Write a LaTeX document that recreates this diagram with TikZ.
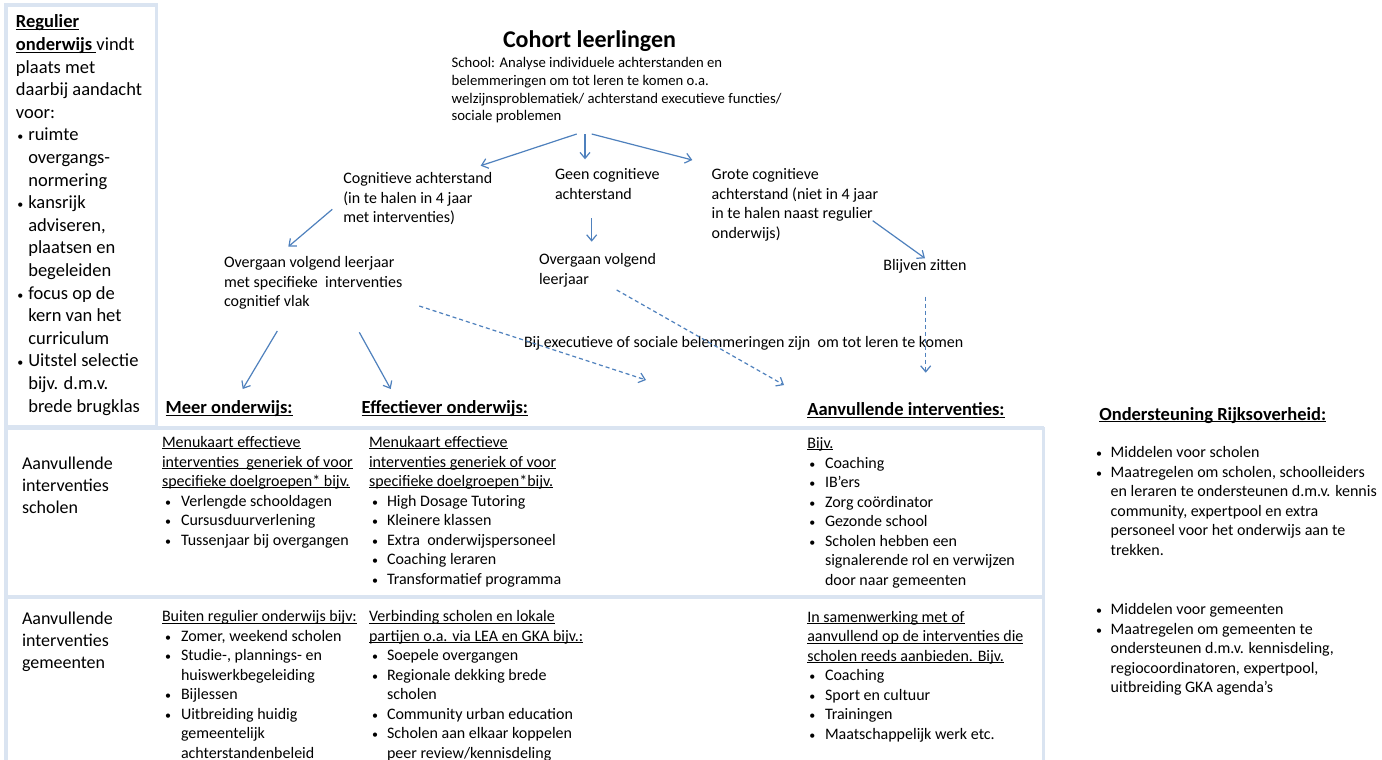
\documentclass[tikz,border=0pt]{standalone}
\usepackage{fontspec}
\setmainfont{Carlito}
\usetikzlibrary{arrows.meta}
\definecolor{arrblue}{RGB}{79,129,189}
\definecolor{tblline}{RGB}{218,228,241}
\newsavebox\ulbox
\newcommand\ulx[1]{\sbox\ulbox{#1}\rlap{\rule[-0.12em]{\wd\ulbox}{0.065em}}\usebox\ulbox}
\newcommand\fst{\rule{0pt}{0.8em}}
\newcommand\bpt[2]{\makebox[#2pt][l]{\hspace*{#1pt}{\fontsize{12}{12}\selectfont•}}}
\newcommand\ind[1]{\hspace*{#1pt}}
\tikzset{
  blk/.style={anchor=north west, inner sep=0pt, outer sep=0pt, align=left, font=\fontsize{16}{19.5}\selectfont},
  smallblk/.style={blk, font=\fontsize{14.7}{17.8}\selectfont},
  lboxtxt/.style={blk, font=\fontsize{18.5}{22.6}\selectfont},
  rowlbl/.style={blk, font=\fontsize{18}{22}\selectfont},
  hdr/.style={anchor=north west, inner sep=0pt, outer sep=0pt, font=\fontsize{18.5}{22}\selectfont\bfseries},
  ttl/.style={anchor=north west, inner sep=0pt, outer sep=0pt, font=\fontsize{24}{28}\selectfont\bfseries},
  arr/.style={draw=arrblue, line width=1.2pt, -{Straight Barb[length=6pt,width=10pt]}},
  darr/.style={arr, dash pattern=on 4pt off 3pt},
  gridline/.style={draw=tblline, line width=3.5pt}
}
\begin{document}
\begin{tikzpicture}[x=1pt,y=-1pt]
\useasboundingbox (0,0) rectangle (1382,760);
\fill[white] (0,0) rectangle (1382,760);

% frames
\draw[gridline] (6,5) rectangle (156.7,427);
\draw[gridline] (6,428) -- (1043.5,428);
\draw[gridline] (6,597) -- (1043.5,597);
\draw[gridline] (6,427) -- (6,762);
\draw[gridline] (1043.5,427) -- (1043.5,762);

% left box
\node[lboxtxt] (reg) at (16,13.1) {\fst\ulx{\textbf{Regulier}}\\
\ulx{\textbf{onderwijs} }vindt\\
plaats met\\
daarbij aandacht\\
voor:\\
\bpt{1.5}{12.3}ruimte\\
\ind{12.3}overgangs-\\
\ind{12.3}normering\\
\bpt{1.5}{12.3}kansrijk\\
\ind{12.3}adviseren,\\
\ind{12.3}plaatsen en\\
\ind{12.3}begeleiden\\
\bpt{1.5}{12.3}focus op de\\
\ind{12.3}kern van het\\
\ind{12.3}curriculum\\
\bpt{1.5}{12.3}Uitstel selectie\\
\ind{12.3}bijv. d.m.v.\\
\ind{12.3}brede brugklas};

% top
\node[ttl] (title) at (503,28.2) {\fst Cohort leerlingen};
\node[smallblk] (school) at (451.7,55.7) {\fst School: Analyse individuele achterstanden en\\
belemmeringen om tot leren te komen o.a.\\
welzijnsproblematiek/ achterstand executieve functies/\\
sociale problemen};

\node[blk] (cogn) at (343.3,170.7) {\fst Cognitieve achterstand\\(in te halen in 4 jaar\\met interventies)};
\node[blk] (geen) at (555,166.7) {\fst Geen cognitieve\\achterstand};
\node[blk] (grote) at (711.7,166.7) {\fst Grote cognitieve\\achterstand (niet in 4 jaar\\in te halen naast regulier\\onderwijs)};
\node[blk] (overL) at (224,255) {\fst Overgaan volgend leerjaar\\met specifieke\ \ interventies\\cognitief vlak};
\node[blk] (overM) at (539,251.7) {\fst Overgaan volgend\\leerjaar};
\node[blk] (blijven) at (883.3,257.4) {\fst Blijven zitten};
\node[blk] (bij) at (524,335) {\fst Bij executieve of sociale belemmeringen zijn\ \ om tot leren te komen};

% headers
\node[hdr] (meer) at (165.7,398.7) {\fst\ulx{Meer onderwijs:}};
\node[hdr] (eff) at (361.7,398.7) {\fst\ulx{Effectiever onderwijs:}};
\node[hdr] (aanv) at (807.3,400.9) {\fst\ulx{Aanvullende interventies:}};
\node[hdr] (rijks) at (1099.3,405.4) {\fst\ulx{Ondersteuning Rijksoverheid:}};

% arrows
\coordinate (a1s) at (576.7,134); \coordinate (a1e) at (480.7,165.7);
\coordinate (a2s) at (585,134);   \coordinate (a2e) at (585,159.3);
\coordinate (a3s) at (591.7,134); \coordinate (a3e) at (692.3,160);
\coordinate (a4s) at (332.3,209.3); \coordinate (a4e) at (288.3,246.7);
\coordinate (a5s) at (591.7,218.3); \coordinate (a5e) at (591.7,241.7);
\coordinate (a6s) at (872.7,220.7); \coordinate (a6e) at (925,258.3);
\coordinate (a7s) at (277.3,331); \coordinate (a7e) at (242.7,389);
\coordinate (a8s) at (359.3,332.3); \coordinate (a8e) at (390.7,389);
\coordinate (d1s) at (419.3,306); \coordinate (d1e) at (646,380);
\coordinate (d2s) at (616.7,290); \coordinate (d2e) at (784,385);
\coordinate (d3s) at (925.7,296.7); \coordinate (d3e) at (925.7,372.7);
\draw[arr] (a1s) -- (a1e);
\draw[arr] (a2s) -- (a2e);
\draw[arr] (a3s) -- (a3e);
\draw[arr] (a4s) -- (a4e);
\draw[arr] (a5s) -- (a5e);
\draw[arr] (a6s) -- (a6e);
\draw[arr] (a7s) -- (a7e);
\draw[arr] (a8s) -- (a8e);
\draw[darr] (d1s) -- (d1e);
\draw[darr] (d2s) -- (d2e);
\draw[darr] (d3s) -- (d3e);

% row labels
\node[rowlbl] (lbl1) at (22,454.6) {\fst Aanvullende\\interventies\\scholen};
\node[rowlbl] (lbl2) at (22,609.6) {\fst Aanvullende\\interventies\\gemeenten};

% row 1
\node[blk] (r1c1) at (162,434.7) {\fst\ulx{Menukaart effectieve}\\
\ulx{interventies\ \ generiek of voor}\\
\ulx{specifieke doelgroepen* bijv.}\\
\bpt{3}{19}Verlengde schooldagen\\
\bpt{3}{19}Cursusduurverlening\\
\bpt{3}{19}Tussenjaar bij overgangen};
\node[blk] (r1c2) at (369,434.7) {\fst\ulx{Menukaart effectieve}\\
\ulx{interventies generiek of voor}\\
\ulx{specifieke doelgroepen*bijv.}\\
\bpt{3}{18}High Dosage Tutoring\\
\bpt{3}{18}Kleinere klassen\\
\bpt{3}{18}Extra\ \ onderwijspersoneel\\
\bpt{3}{18}Coaching leraren\\
\bpt{3}{18}Transformatief programma};
\node[blk] (r1c3) at (807.3,435.7) {\fst\ulx{Bijv.}\\
\bpt{2}{17.7}Coaching\\
\bpt{2}{17.7}IB’ers\\
\bpt{2}{17.7}Zorg coördinator\\
\bpt{2}{17.7}Gezonde school\\
\bpt{2}{17.7}Scholen hebben een\\
\ind{17.7}signalerende rol en verwijzen\\
\ind{17.7}door naar gemeenten};

% row 2
\node[blk] (r2c1) at (162,609) {\fst\ulx{Buiten regulier onderwijs bijv:}\\
\bpt{3}{19}Zomer, weekend scholen\\
\bpt{3}{19}Studie-, plannings- en\\
\ind{19}huiswerkbegeleiding\\
\bpt{3}{19}Bijlessen\\
\bpt{3}{19}Uitbreiding huidig\\
\ind{19}gemeentelijk\\
\ind{19}achterstandenbeleid};
\node[blk] (r2c2) at (369,609) {\fst\ulx{Verbinding scholen en lokale}\\
\ulx{partijen o.a. via LEA en GKA bijv.:}\\
\bpt{3}{18}Soepele overgangen\\
\bpt{3}{18}Regionale dekking brede\\
\ind{18}scholen\\
\bpt{3}{18}Community urban education\\
\bpt{3}{18}Scholen aan elkaar koppelen\\
\ind{18}peer review/kennisdeling};
\node[blk] (r2c3) at (807.3,609.5) {\fst\ulx{In samenwerking met of}\\
\ulx{aanvullend op de interventies die}\\
\ulx{scholen reeds aanbieden. Bijv.}\\
\bpt{2}{17.7}Coaching\\
\bpt{2}{17.7}Sport en cultuur\\
\bpt{2}{17.7}Trainingen\\
\bpt{2}{17.7}Maatschappelijk werk etc.};

% Rijksoverheid
\node[blk] (rk1) at (1095,445) {\fst\bpt{1}{15.7}Middelen voor scholen\\
\bpt{1}{15.7}Maatregelen om scholen, schoolleiders\\
\ind{15.7}en leraren te ondersteunen d.m.v. kennis\\
\ind{15.7}community, expertpool en extra\\
\ind{15.7}personeel voor het onderwijs aan te\\
\ind{15.7}trekken.};
\node[blk] (rk2) at (1095,601.7) {\fst\bpt{1}{15.7}Middelen voor gemeenten\\
\bpt{1}{15.7}Maatregelen om gemeenten te\\
\ind{15.7}ondersteunen d.m.v. kennisdeling,\\
\ind{15.7}regiocoordinatoren, expertpool,\\
\ind{15.7}uitbreiding GKA agenda’s};
\end{tikzpicture}
\end{document}
